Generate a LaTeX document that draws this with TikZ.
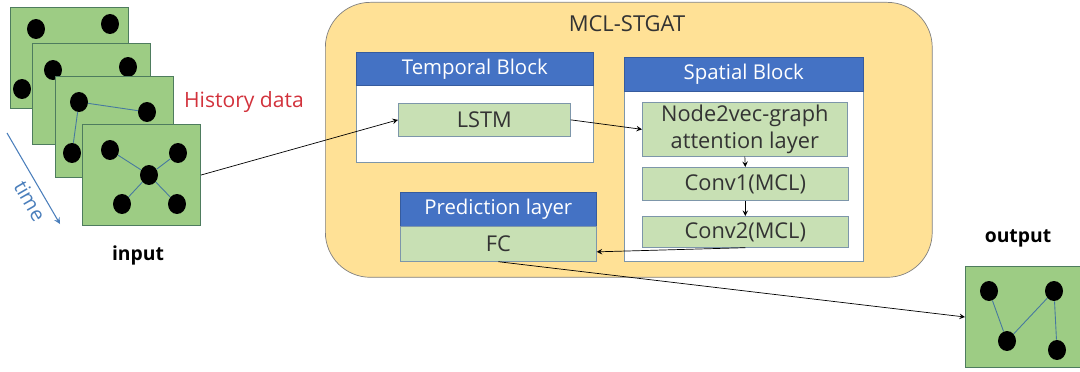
\documentclass[tikz,border=0pt]{standalone}
\usepackage{fontspec}
\setmainfont{Open Sans}
\usetikzlibrary{arrows}
\usetikzlibrary{shapes.geometric}

\definecolor{cardgreen}{RGB}{157,204,132}
\definecolor{carddark}{RGB}{78,124,94}
\definecolor{layergreen}{RGB}{200,224,180}
\definecolor{layeredge}{RGB}{125,150,170}
\definecolor{headblue}{RGB}{68,114,196}
\definecolor{modelgold}{RGB}{255,225,150}
\definecolor{edgeblue}{RGB}{70,120,160}
\definecolor{timeblue}{RGB}{74,126,187}
\definecolor{histred}{RGB}{210,50,60}

\tikzset{
  card/.style={draw=carddark, fill=cardgreen, line width=0.6pt, minimum width=2.36cm, minimum height=2.02cm, anchor=north west, inner sep=0pt},
  dot/.style={ellipse, fill=black, minimum width=0.36cm, minimum height=0.4cm, inner sep=0pt},
  link/.style={draw=edgeblue, line width=0.5pt},
  panel/.style={fill=white, draw=layeredge, anchor=north west, inner sep=0pt},
  header/.style={fill=headblue, draw=headblue!80!black, text=white, anchor=north west, inner sep=0pt, font=\fontsize{11.6}{12}\selectfont},
  layer/.style={fill=layergreen, draw=layeredge, anchor=north west, inner sep=0pt, text=black!80, font=\fontsize{12.4}{15.3}\selectfont, align=center},
}

\begin{document}
\begin{tikzpicture}[x=0.02cm, y=-0.02cm]
  \useasboundingbox (0,0) rectangle (1080,372);

  % history data, stacked in time
  \node[card] (card1) at (10,7) {};
  \node[dot] (c1a) at (36,29) {};
  \node[dot] (c1b) at (110,24) {};
  \node[dot] (c1c) at (22,89) {};
  \node[card] (card2) at (32,43) {};
  \node[dot] (c2a) at (53,70) {};
  \node[dot] (c2b) at (128,67) {};
  \node[card] (card3) at (55,76) {};
  \node[dot] (c3a) at (79,102) {};
  \node[dot] (c3b) at (147,112) {};
  \node[dot] (c3c) at (72,153) {};
  \draw[link] (c3a) -- (c3b);
  \draw[link] (c3a) -- (c3c);
  \node[card] (card4) at (82,124) {};
  \node[dot] (c4a) at (110,150) {};
  \node[dot] (c4b) at (178,153) {};
  \node[dot] (c4m) at (149,175) {};
  \node[dot] (c4c) at (122,204) {};
  \node[dot] (c4d) at (177,204) {};
  \draw[link] (c4m) -- (c4a);
  \draw[link] (c4m) -- (c4b);
  \draw[link] (c4m) -- (c4c);
  \draw[link] (c4m) -- (c4d);

  \coordinate (t0) at (7,133);
  \coordinate (t1) at (60,224);
  \draw[->,>=stealth, timeblue, line width=0.6pt] (t0) -- (t1);
  \node[timeblue, rotate=-60, inner sep=1pt, font=\fontsize{11.5}{12}\selectfont] (timelbl) at (30,201) {time};
  \node[font=\bfseries\fontsize{11}{12}\selectfont] (inlbl) at (138,255) {input};
  \node[histred, font=\fontsize{12}{13}\selectfont] (histlbl) at (244,102) {History data};

  % the model
  \node[draw=gray, fill=modelgold, rounded corners=0.9cm, minimum width=12.14cm, minimum height=5.5cm, anchor=north west] (model) at (325,2) {};
  \node[text=black!80, font=\fontsize{12.5}{13}\selectfont] (title) at (627,24) {MCL-STGAT};

  \node[panel, minimum width=4.74cm, minimum height=2.2cm] (tbody) at (356,52) {};
  \node[header, minimum width=4.74cm, minimum height=0.66cm] (thead) at (356,52) {Temporal Block};
  \node[layer, minimum width=3.44cm, minimum height=0.66cm] (lstm) at (398,103) {LSTM};

  \node[panel, minimum width=4.78cm, minimum height=4.08cm] (sbody) at (624,57) {};
  \node[header, minimum width=4.78cm, minimum height=0.68cm] (shead) at (624,57) {Spatial Block};
  \node[layer, minimum width=4.1cm, minimum height=1.08cm] (gat) at (642,102) {Node2vec-graph\\attention layer};
  \node[layer, minimum width=4.12cm, minimum height=0.66cm] (conv1) at (642,167) {Conv1(MCL)};
  \node[layer, minimum width=4.12cm, minimum height=0.62cm] (conv2) at (642,216) {Conv2(MCL)};

  \node[header, minimum width=3.92cm, minimum height=0.68cm] (phead) at (400,192) {Prediction layer};
  \node[layer, minimum width=3.92cm, minimum height=0.7cm] (fc) at (400,226) {FC};

  % prediction
  \node[font=\bfseries\fontsize{11}{12}\selectfont] (outlbl) at (1018,238) {output};
  \node[card, minimum width=2.3cm] (outcard) at (965,266) {};
  \node[dot] (o1) at (989,291) {};
  \node[dot] (o2) at (1054,291) {};
  \node[dot] (o3) at (1007,341) {};
  \node[dot] (o4) at (1057,350) {};
  \draw[link] (o1) -- (o3);
  \draw[link] (o3) -- (o2);
  \draw[link] (o2) -- (o4);

  % data flow
  \draw[->,>=stealth] (card4.east) -- (lstm.west);
  \draw[->,>=stealth] (lstm.east) -- (gat.west);
  \draw[->,>=stealth] (gat.south) -- (conv1.north);
  \draw[->,>=stealth] (conv1.south) -- (conv2.north);
  \draw[->,>=stealth] (conv2.south) -- ([yshift=-0.16cm]fc.east);
  \draw[->,>=stealth] (fc.south) -- (outcard.west);

\end{tikzpicture}
\end{document}
